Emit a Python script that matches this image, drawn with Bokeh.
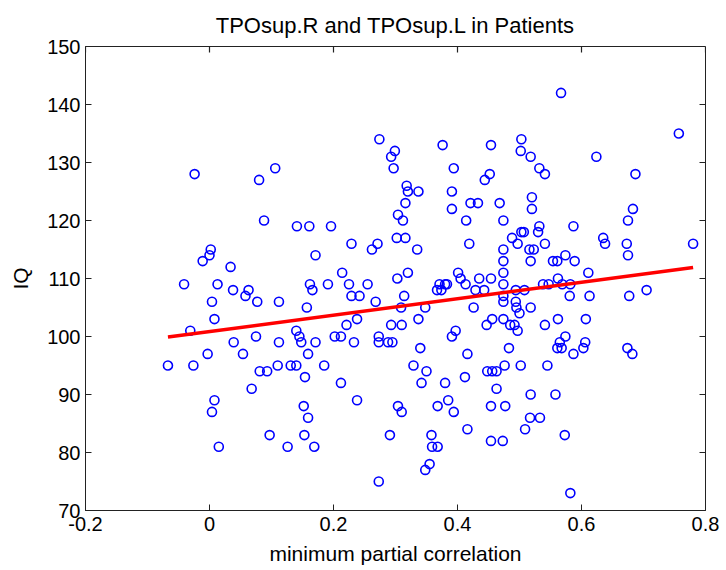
from bokeh.plotting import figure
from bokeh.models import FixedTicker, Range1d, ColumnDataSource
from bokeh.embed import file_html
from bokeh.resources import INLINE

# ---- data ----
corr = [
    -0.024, 0.080, 0.106,
    0.274, 0.299, 0.293, 0.297, 0.376, 0.454, 0.394, 0.452, 0.444, 0.318, 0.320, 0.337, 0.391,
    0.567, 0.757, 0.503, 0.502, 0.518, 0.624, 0.532, 0.541, 0.687, 0.520,
    0.088, 0.141, 0.002, 0.000, -0.011, 0.034, -0.041, 0.013, 0.038, 0.063, 0.058, 0.077,
    0.112, 0.004, 0.008, -0.031, 0.140, 0.145, 0.148, 0.075, 0.039, 0.112, -0.003, 0.054,
    -0.067, -0.026, 0.081, 0.093, 0.110, 0.131, 0.140, 0.068, 0.008, 0.004, 0.152, 0.097,
    0.015, 0.126, 0.153,
    0.159, 0.185, 0.154, 0.212, 0.238, 0.159, 0.169, 0.304, 0.310, 0.291, 0.273, 0.329,
    0.350, 0.342, 0.380, 0.385, 0.368, 0.394, 0.412, 0.448, 0.456, 0.463, 0.476, 0.463,
    0.454, 0.477, 0.416, 0.358, 0.359, 0.368, 0.355, 0.348, 0.454, 0.473, 0.416, 0.340,
    0.502, 0.545, 0.518, 0.558, 0.517, 0.533, 0.509, 0.573, 0.582,
    0.316, 0.391, 0.421, 0.433, 0.468, 0.304, 0.312, 0.414, 0.474, 0.161, 0.196, 0.229,
    0.262, 0.271, 0.302, 0.316, 0.335, 0.419, 0.474, 0.171, 0.474, 0.214, 0.320, 0.401,
    0.474, 0.303, 0.162, 0.166, 0.191, 0.225, 0.255, 0.229, 0.242, 0.314, 0.405, 0.413,
    0.435, 0.454, 0.474, 0.429, 0.443, 0.367, 0.374, 0.371, 0.380, 0.383, 0.474, 0.268,
    0.157, 0.309, 0.348, 0.426, 0.238, 0.221, 0.337, 0.293, 0.310, 0.456, 0.447, 0.474,
    0.397, 0.391, 0.202, 0.212, 0.273, 0.171, 0.233, 0.273, 0.288, 0.295,
    0.520, 0.683, 0.675, 0.587, 0.532, 0.530, 0.503, 0.507, 0.488, 0.497, 0.541, 0.635,
    0.638, 0.673, 0.780, 0.516, 0.523, 0.675, 0.518, 0.554, 0.561, 0.574, 0.589, 0.611,
    0.562, 0.538, 0.547, 0.569, 0.582, 0.494, 0.508, 0.705, 0.581, 0.613, 0.677, 0.474,
    0.494, 0.495, 0.500, 0.518, 0.562, 0.607, 0.485, 0.492, 0.541, 0.497, 0.574, 0.565,
    0.606, 0.561, 0.568, 0.603, 0.674, 0.483, 0.587, 0.682,
]
iq = [
    128, 127, 129,
    134, 132, 131, 129, 133, 133, 129, 128, 127, 126, 125, 125, 125,
    142, 135, 134, 132, 131, 131, 129, 128, 128, 124,
    120, 119, 115, 114, 113, 112, 109, 109, 108, 108, 107, 106,
    106, 106, 103, 101, 101, 100, 99, 100, 99, 99, 97, 97,
    95, 95, 94, 94, 95, 95, 95, 91, 89, 87, 88, 83,
    81, 81, 83,
    97, 95, 93, 92, 89, 86, 81, 88, 87, 83, 75, 95,
    94, 92, 92, 89, 88, 87, 93, 94, 94, 94, 95, 91,
    88, 88, 84, 83, 81, 81, 78, 77, 82, 82, 97, 98,
    95, 95, 90, 90, 86, 86, 84, 83, 73,
    123, 122, 123, 123, 123, 121, 120, 120, 120, 119, 119, 116,
    115, 116, 117, 117, 115, 116, 115, 114, 113, 111, 111, 111,
    111, 110, 109, 108, 109, 109, 109, 107, 107, 107, 110, 109,
    110, 110, 109, 108, 108, 108, 108, 109, 109, 109, 107, 106,
    105, 105, 105, 105, 103, 102, 103, 102, 102, 103, 102, 103,
    101, 100, 100, 100, 100, 99, 99, 99, 99, 99,
    122, 122, 120, 119, 119, 118, 118, 118, 117, 116, 116, 117,
    116, 116, 116, 115, 115, 114, 113, 113, 113, 114, 113, 111,
    110, 109, 109, 109, 109, 108, 108, 108, 107, 107, 107, 106,
    106, 105, 104, 105, 103, 103, 102, 102, 102, 101, 100, 99,
    99, 98, 98, 98, 98, 98, 97, 97,
]
fit_x = [-0.067, 0.780]
fit_y = [99.9, 111.9]

x_ticks = [-0.2, 0.0, 0.2, 0.4, 0.6, 0.8]
x_tick_labels = ["-0.2", "0", "0.2", "0.4", "0.6", "0.8"]
y_ticks = [70, 80, 90, 100, 110, 120, 130, 140, 150]

title_text = "TPOsup.R and TPOsup.L in Patients"
x_label = "minimum partial correlation"
y_label = "IQ"

X_MIN, X_MAX = -0.2, 0.8
Y_MIN, Y_MAX = 70, 150

FONT = "Liberation Sans"
AX_COLOR = "#222222"
W, H = 726, 570
B_LEFT, B_RIGHT, B_TOP, B_BOTTOM = 85, 21, 46, 60
TICK_PX = 6

p = figure(width=W, height=H, output_backend="svg", toolbar_location=None,
           x_range=Range1d(X_MIN, X_MAX), y_range=Range1d(Y_MIN, Y_MAX),
           title=title_text,
           min_border_left=B_LEFT, min_border_right=B_RIGHT,
           min_border_top=B_TOP, min_border_bottom=B_BOTTOM)
p.background_fill_color = "white"
p.border_fill_color = "white"
p.grid.visible = False
p.outline_line_color = AX_COLOR
p.outline_line_width = 1

p.title.align = "center"
p.title.text_font = FONT
p.title.text_font_size = "22px"
p.title.text_font_style = "normal"
p.title.text_color = "black"
p.title.standoff = 17

for ax in (p.xaxis[0], p.yaxis[0]):
    ax.axis_line_color = AX_COLOR
    ax.major_tick_line_color = AX_COLOR
    ax.major_tick_in = TICK_PX
    ax.major_tick_out = 0
    ax.minor_tick_line_color = None
    ax.major_label_text_font = FONT
    ax.major_label_text_font_size = "20px"
    ax.major_label_text_color = "black"
    ax.axis_label_text_font = FONT
    ax.axis_label_text_font_size = "21px"
    ax.axis_label_text_font_style = "normal"
    ax.axis_label_text_color = "black"

xa = p.xaxis[0]
ya = p.yaxis[0]
xa.ticker = FixedTicker(ticks=x_ticks)
ya.ticker = FixedTicker(ticks=y_ticks)
xa.major_label_overrides = dict(zip(x_ticks, x_tick_labels))
xa.axis_label = x_label
ya.axis_label = y_label
xa.major_label_standoff = 6
xa.axis_label_standoff = 8
ya.major_label_standoff = 5
ya.axis_label_standoff = 12

# inward ticks on the top and right edges of the box (MATLAB "box on")
frame_w = W - B_LEFT - B_RIGHT
frame_h = H - B_TOP - B_BOTTOM
dx = TICK_PX * (X_MAX - X_MIN) / frame_w
dy = TICK_PX * (Y_MAX - Y_MIN) / frame_h
p.segment(x0=x_ticks, y0=[Y_MAX] * len(x_ticks), x1=x_ticks, y1=[Y_MAX - dy] * len(x_ticks),
          line_color=AX_COLOR, line_width=1.2)
p.segment(x0=[X_MAX] * len(y_ticks), y0=y_ticks, x1=[X_MAX - dx] * len(y_ticks), y1=y_ticks,
          line_color=AX_COLOR, line_width=1.2)

src = ColumnDataSource(dict(x=corr, y=iq))
p.scatter("x", "y", source=src, marker="circle", size=9, fill_color=None,
          line_color="#0000ff", line_width=1.6)
p.line(fit_x, fit_y, line_color="#ff0000", line_width=3.5)

open("out.html", "w").write(file_html(p, INLINE))
